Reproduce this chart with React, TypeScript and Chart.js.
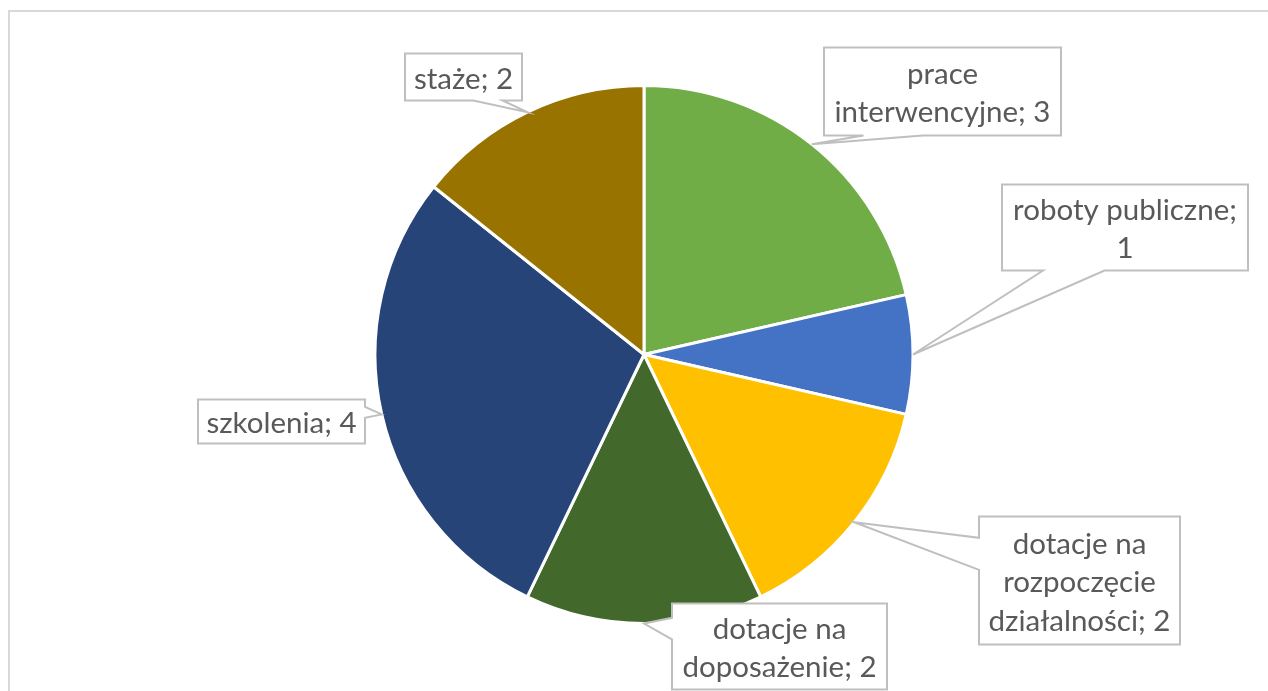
import React, { useEffect, useRef } from "react";
import { Chart, registerables } from "chart.js";

Chart.register(...registerables);

// ---- data ----
const categories = [
  "prace interwencyjne",
  "roboty publiczne",
  "dotacje na rozpoczęcie działalności",
  "dotacje na doposażenie",
  "szkolenia",
  "staże",
];
const values = [3, 1, 2, 2, 4, 2];
const colors = ["#70AD47", "#4472C4", "#FFC000", "#43682B", "#264478", "#997300"];

// ---- label box layout (relative to pie centre, in px at a 269px radius) ----
const LABEL_BOXES = [
  { dx: 180, dy: -307, w: 237, h: 88 },
  { dx: 358, dy: -170, w: 246, h: 86 },
  { dx: 335, dy: 162, w: 201, h: 128 },
  { dx: 28, dy: 249, w: 215, h: 86 },
  { dx: -446, dy: 45, w: 167, h: 44 },
  { dx: -239, dy: -301, w: 117, h: 47 },
];
const REF_RADIUS = 269;
const FONT_PX = 29.5;
const LINE_H = 38.5;
const FONT_FAMILY = "Lato, 'Noto Sans', sans-serif";

function wrapText(ctx: CanvasRenderingContext2D, text: string, maxW: number): string[] {
  const words = text.split(" ");
  const lines: string[] = [];
  let cur = "";
  for (const w of words) {
    const test = cur ? cur + " " + w : w;
    if (cur && ctx.measureText(test).width > maxW) {
      lines.push(cur);
      cur = w;
    } else {
      cur = test;
    }
  }
  if (cur) lines.push(cur);
  return lines;
}

function drawCallout(
  ctx: CanvasRenderingContext2D,
  l: number,
  t: number,
  w: number,
  h: number,
  tx: number,
  ty: number
) {
  const hc = l + w / 2;
  const vc = t + h / 2;
  const dxPos = tx - hc;
  const dyPos = ty - vc;
  const dq = (dxPos * h) / w;
  const dz = Math.abs(dyPos) - Math.abs(dq);
  const x1 = l + (w * (dxPos > 0 ? 7 : 2)) / 12;
  const x2 = l + (w * (dxPos > 0 ? 10 : 5)) / 12;
  const y1 = t + (h * (dyPos > 0 ? 7 : 2)) / 12;
  const y2 = t + (h * (dyPos > 0 ? 10 : 5)) / 12;
  const r = l + w;
  const b = t + h;
  ctx.beginPath();
  ctx.moveTo(l, t);
  if (dz > 0 && dyPos < 0) {
    ctx.lineTo(x1, t);
    ctx.lineTo(tx, ty);
    ctx.lineTo(x2, t);
  }
  ctx.lineTo(r, t);
  if (dz <= 0 && dxPos > 0) {
    ctx.lineTo(r, y1);
    ctx.lineTo(tx, ty);
    ctx.lineTo(r, y2);
  }
  ctx.lineTo(r, b);
  if (dz > 0 && dyPos > 0) {
    ctx.lineTo(x2, b);
    ctx.lineTo(tx, ty);
    ctx.lineTo(x1, b);
  }
  ctx.lineTo(l, b);
  if (dz <= 0 && dxPos < 0) {
    ctx.lineTo(l, y2);
    ctx.lineTo(tx, ty);
    ctx.lineTo(l, y1);
  }
  ctx.closePath();
  ctx.fillStyle = "#ffffff";
  ctx.fill();
  ctx.strokeStyle = "#bfbfbf";
  ctx.lineWidth = 2;
  ctx.lineJoin = "miter";
  ctx.stroke();
}

const calloutPlugin = {
  id: "callouts",
  beforeDraw(chart: any) {
    const ctx: CanvasRenderingContext2D = chart.ctx;
    ctx.save();
    ctx.fillStyle = "#ffffff";
    ctx.fillRect(0, 0, chart.width, chart.height);
    ctx.strokeStyle = "#d9d9d9";
    ctx.lineWidth = 2;
    ctx.strokeRect(9, 11, chart.width + 40, chart.height + 40);
    ctx.restore();
  },
  afterDatasetsDraw(chart: any) {
    const ctx: CanvasRenderingContext2D = chart.ctx;
    const meta = chart.getDatasetMeta(0);
    ctx.save();
    meta.data.forEach((arc: any, i: number) => {
      const { x, y, startAngle, endAngle, outerRadius } = arc.getProps(
        ["x", "y", "startAngle", "endAngle", "outerRadius"],
        true
      );
      const mid = (startAngle + endAngle) / 2;
      const s = outerRadius / REF_RADIUS;
      const tx = x + Math.cos(mid) * outerRadius;
      const ty = y + Math.sin(mid) * outerRadius;
      const bx = LABEL_BOXES[i];
      const l = x + bx.dx * s;
      const t = y + bx.dy * s;
      const w = bx.w * s;
      const h = bx.h * s;
      drawCallout(ctx, l, t, w, h, tx, ty);

      ctx.font = `${FONT_PX * s}px ${FONT_FAMILY}`;
      ctx.fillStyle = "#595959";
      ctx.textAlign = "center";
      ctx.textBaseline = "middle";
      const text = `${chart.data.labels[i]}; ${chart.data.datasets[0].data[i]}`;
      const lines = wrapText(ctx, text, w - 6 * s);
      const lh = LINE_H * s;
      const vc = t + h / 2;
      lines.forEach((ln, k) => {
        ctx.fillText(ln, l + w / 2, vc + (k - (lines.length - 1) / 2) * lh + 2);
      });
    });
    ctx.restore();
  },
};

export default function App() {
  const ref = useRef<HTMLCanvasElement | null>(null);
  useEffect(() => {
    if (!ref.current) return;
    const chart = new Chart(ref.current, {
      type: "pie",
      data: {
        labels: categories,
        datasets: [
          {
            data: values,
            backgroundColor: colors,
            borderColor: "#ffffff",
            borderWidth: 3,
          },
        ],
      },
      options: {
        responsive: false,
        animation: false,
        devicePixelRatio: 1,
        layout: { padding: { left: 300, right: 280, top: 84, bottom: 66 } },
        plugins: {
          legend: { display: false },
          tooltip: { enabled: false },
        },
      },
      plugins: [calloutPlugin],
    });
    return () => chart.destroy();
  }, []);
  return (
    <div
      style={{
        position: "absolute",
        left: 0,
        top: 0,
        width: 1268,
        height: 691,
        overflow: "hidden",
        background: "#ffffff",
      }}
    >
      <canvas ref={ref} width={1268} height={691} style={{ display: "block" }} />
    </div>
  );
}
